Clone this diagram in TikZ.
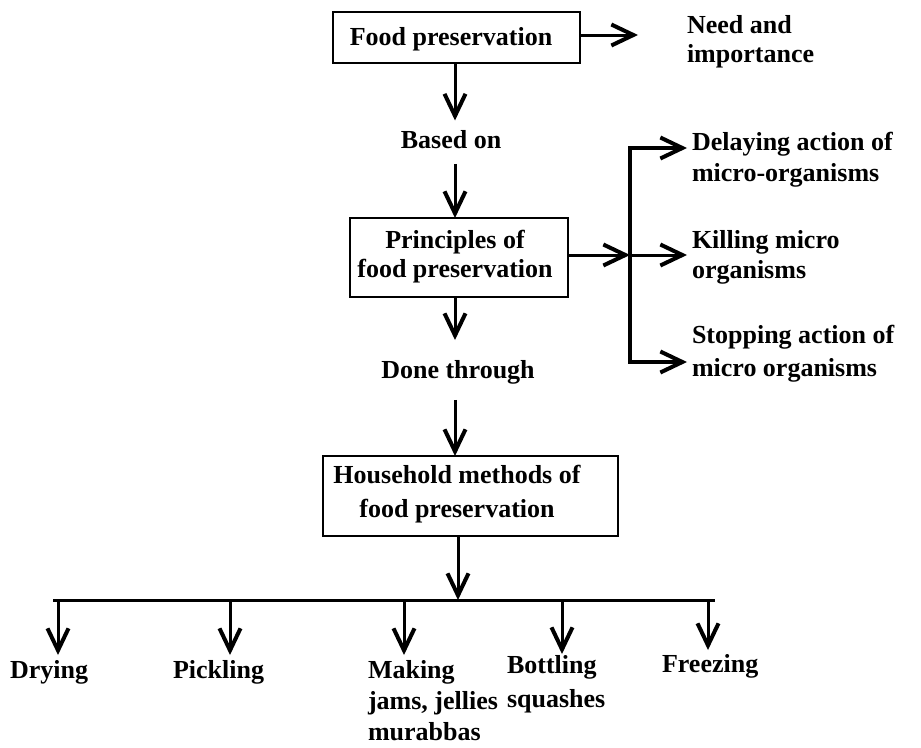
\documentclass[tikz,border=0pt]{standalone}
\usepackage{fontspec}
\setmainfont{Liberation Serif}
\usetikzlibrary{arrows.meta}
\begin{document}
\begin{tikzpicture}[x=1pt,y=-1pt,
  >={Straight Barb[length=22pt,width=21pt,line width=4pt]},
  frame/.style={draw, line width=2.5pt, inner sep=0pt, outer sep=0pt},
  txt/.style={inner sep=0pt, outer sep=0pt, font=\bfseries\fontsize{26}{29}\selectfont, align=center},
  ltxt/.style={txt, align=left, anchor=north west},
  arr/.style={line width=3pt, ->},
  barline/.style={line width=3pt}]
\useasboundingbox (0,0) rectangle (921,747);

% frames
\node[frame, minimum width=247pt, minimum height=51pt] (b1) at (456.5,37.5) {};
\node[frame, minimum width=218pt, minimum height=79pt] (b2) at (459,257.5) {};
\node[frame, minimum width=295pt, minimum height=80pt] (b3) at (470.5,496) {};

% box texts
\node[txt, anchor=base] (t1) at (451,45) {Food preservation};
\node[txt, anchor=north] (t2) at (455,230.4) {Principles of\\food preservation};
\node[txt, anchor=north, font=\bfseries\fontsize{26}{34}\selectfont] (t3) at (457,465.4) {Household methods of\\food preservation};

% labels on the chain
\node[txt, anchor=north] (based) at (451,130.5) {Based on};
\node[txt, anchor=north] (done) at (458,360) {Done through};

% right texts
\node[ltxt, font=\bfseries\fontsize{26}{29}\selectfont] (need) at (687,15) {Need and\\importance};
\node[ltxt, font=\bfseries\fontsize{26}{31}\selectfont] (delay) at (692,132) {Delaying action of\\micro-organisms};
\node[ltxt, font=\bfseries\fontsize{26}{30}\selectfont] (kill) at (692,230) {Killing micro\\organisms};
\node[ltxt, font=\bfseries\fontsize{26}{33}\selectfont] (stop) at (692,325) {Stopping action of\\micro organisms};

% bottom texts
\node[ltxt] (dry) at (10,660) {Drying};
\node[ltxt] (pick) at (173,660) {Pickling};
\node[ltxt, font=\bfseries\fontsize{26}{31}\selectfont] (make) at (368,660) {Making\\jams, jellies\\murabbas};
\node[ltxt, font=\bfseries\fontsize{26}{34}\selectfont] (bott) at (507,655) {Bottling\\squashes};
\node[ltxt] (freeze) at (662,654) {Freezing};

% coordinates
\coordinate (vx) at (455,0);
\coordinate (needtip) at (638,35);
\coordinate (brT) at (630,148);
\coordinate (brM) at (630,255);
\coordinate (brB) at (630,362);
\coordinate (barL) at (53,600);
\coordinate (barR) at (715,600);
\coordinate (barC) at (458,600);
\coordinate (d1) at (58,600);
\coordinate (d2) at (230,600);
\coordinate (d3) at (404,600);
\coordinate (d4) at (562,600);
\coordinate (d5) at (708,600);

% connectors
\draw[arr] (b1.east |- needtip) -- (needtip);
\draw[arr, shorten >=10pt] (b1.south -| vx) -- (based.north -| vx);
\draw[arr, shorten <=15pt] (based.south -| vx) -- (b2.north -| vx);
\draw[arr, shorten >=20pt] (b2.south -| vx) -- (done.north -| vx);
\draw[arr, shorten <=16pt] (done.south -| vx) -- (b3.north -| vx);
\draw[arr] (b3.south -| barC) -- (barC);

% bracket
\draw[line width=3.5pt, <->, shorten <=5pt, shorten >=5pt, line join=miter]
  (delay.west |- brT) -- (brT) -- (brB) -- (stop.west |- brB);
\draw[arr] (b2.east |- brM) -- (brM);
\draw[arr, shorten >=5pt] (brM) -- (kill.west |- brM);

% bottom bar and branches
\draw[barline] (barL) -- (barR);
\draw[arr, shorten >=5pt] (d1) -- (d1 |- dry.north);
\draw[arr, shorten >=5pt] (d2) -- (d2 |- pick.north);
\draw[arr, shorten >=5pt] (d3) -- (d3 |- make.north);
\draw[arr, shorten >=1pt] (d4) -- (d4 |- bott.north);
\draw[arr, shorten >=4pt] (d5) -- (d5 |- freeze.north);
\end{tikzpicture}
\end{document}
